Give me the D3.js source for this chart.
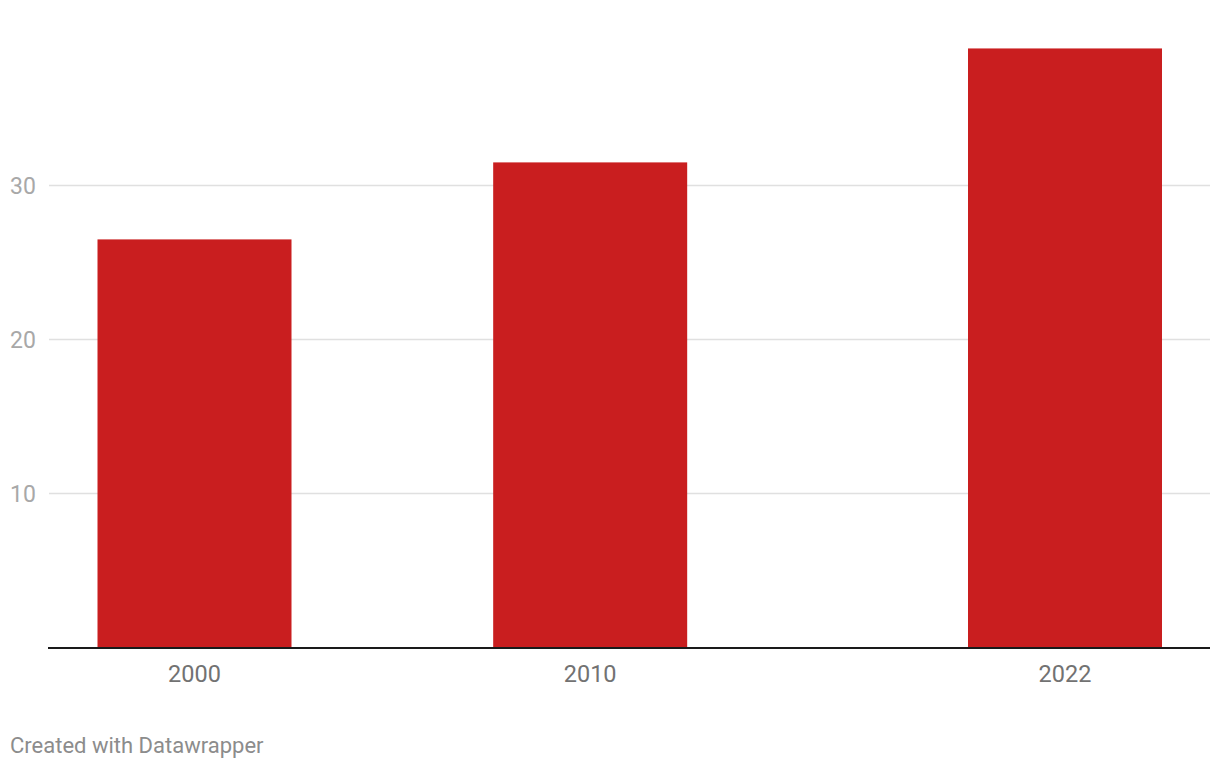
<!DOCTYPE html>
<html>
<head>
<meta charset="utf-8">
<script src="https://cdn.jsdelivr.net/npm/d3@7"></script>
<style>
  html, body { margin: 0; padding: 0; background: #fff; }
  svg { display: block; font-family: Roboto, "Noto Sans", sans-serif; }
</style>
</head>
<body>
<svg id="chart" width="1220" height="770"></svg>
<script>
const years = [2000, 2010, 2022];
const values = [26.5, 31.5, 38.9];
const yTicks = [10, 20, 30];
const xTicks = ["2000", "2010", "2022"];

const svg = d3.select("#chart");
const plotLeft = 48, plotRight = 1210, plotBottom = 647.5;

const x = d3.scaleLinear().domain([2000, 2022]).range([194.5, 1065]);
const y = d3.scaleLinear().domain([0, 30]).range([plotBottom, 185.5]);
const barW = 194;

// gridlines
svg.append("g").selectAll("line").data(yTicks).join("line")
  .attr("x1", plotLeft + 1).attr("x2", plotRight)
  .attr("y1", d => y(d)).attr("y2", d => y(d))
  .attr("stroke", "#e0e0e0").attr("stroke-width", 1.5);

// y labels
svg.append("g").selectAll("text").data(yTicks).join("text")
  .attr("x", 10).attr("y", d => y(d))
  .attr("dy", "0.35em")
  .attr("fill", "#a8a8a8")
  .attr("font-size", 23)
  .text(d => d);

// bars
svg.append("g").selectAll("rect").data(years).join("rect")
  .attr("x", (d) => x(d) - barW / 2)
  .attr("width", barW)
  .attr("y", (d, i) => y(values[i]))
  .attr("height", (d, i) => plotBottom - y(values[i]))
  .attr("fill", "#c91e1f");

// baseline
svg.append("line")
  .attr("x1", plotLeft).attr("x2", plotRight)
  .attr("y1", plotBottom + 0.5).attr("y2", plotBottom + 0.5)
  .attr("stroke", "#1a1a1a").attr("stroke-width", 2);

// x labels
svg.append("g").selectAll("text").data(years).join("text")
  .attr("x", d => x(d)).attr("y", 682)
  .attr("text-anchor", "middle")
  .attr("fill", "#727272")
  .attr("font-size", 23.5)
  .text((d, i) => xTicks[i]);

// credit
svg.append("text")
  .attr("x", 10).attr("y", 753)
  .attr("fill", "#8c8c8c")
  .attr("font-size", 22)
  .text("Created with Datawrapper");
</script>
</body>
</html>
